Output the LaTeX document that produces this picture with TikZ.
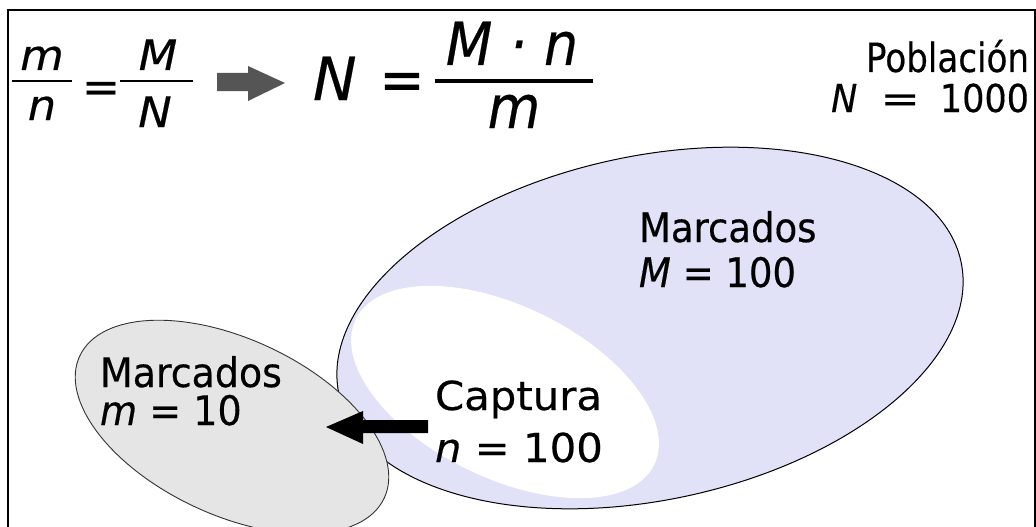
\documentclass[tikz,border=0pt]{standalone}
\usepackage{fontspec}
\setmainfont{DejaVu Sans}[FakeBold=0.4]
\definecolor{lav}{HTML}{E1E1F8}
\definecolor{lgray}{HTML}{E5E5E5}
\definecolor{agray}{HTML}{555555}
\definecolor{egray}{HTML}{333333}
\newcommand{\tallt}[1]{\scalebox{1}[1.1]{#1}}
\tikzset{
  lbl/.style={inner sep=0pt, outer sep=0pt, font=\fontsize{37}{44}\selectfont, anchor=base west},
  lblr/.style={inner sep=0pt, outer sep=0pt, font=\fontsize{35}{42}\selectfont, anchor=base east},
  bigm/.style={inner sep=0pt, outer sep=0pt, font=\fontsize{54}{60}\selectfont, anchor=base},
  smallm/.style={inner sep=0pt, outer sep=0pt, font=\fontsize{40}{46}\selectfont, anchor=base},
  fracbar/.style={line width=2.5pt},
  bigbar/.style={line width=3.5pt},
}
\begin{document}
\begin{tikzpicture}[x=1pt,y=-1pt]
\useasboundingbox (0,0) rectangle (1036,527);
\clip (0,0) rectangle (1036,527);
\fill[white] (0,0) rectangle (1036,527);
% frame
\draw[line width=2pt] (8,560) -- (8,10) -- (1034.5,10) -- (1034.5,560);

% big ellipse (population marked)
\path[fill=lav, rotate around={12:(650,328)}] (650,328) ellipse [x radius=318, y radius=172];
\begin{scope}
  \clip[rotate around={12:(650,328)}] (650,328) ellipse [x radius=315, y radius=169];
  \fill[white, rotate around={-26:(505,392)}] (505,392) ellipse [x radius=166, y radius=86];
\end{scope}
\draw[black, line width=1pt, rotate around={12:(650,328)}] (650,328) ellipse [x radius=318, y radius=172];

% small gray ellipse
\draw[fill=lgray, draw=egray, line width=0.9pt, rotate around={-25:(232,427)}] (232,427) ellipse [x radius=168, y radius=88];

% black arrow
\fill[black] (428,420) -- (363,420) -- (363,411) -- (326,427) -- (363,444) -- (363,433) -- (428,433) -- cycle;

% gray arrow
\fill[agray] (217,73) -- (248,73) -- (248,66) -- (285,83) -- (248,101) -- (248,91) -- (217,91) -- cycle;

% small formula
\node[smallm] (sm) at (42,70) {\scalebox{1.12}[1.05]{\itshape m}};
\node[smallm] (sn) at (42,120) {\scalebox{1.12}[1.05]{\itshape n}};
\draw[fracbar] (12,81) -- (72,81);
\node[smallm] (seq) at (101,102) {\scalebox{1.15}[1.1]{=}};
\node[smallm] (sM) at (158,70) {\scalebox{1.12}[1.05]{\itshape M}};
\node[smallm] (sN) at (155,127) {\scalebox{1.12}[1.05]{\itshape N}};
\draw[fracbar] (120,81) -- (193,81);

% big formula
\node[bigm, anchor=base west] (bN) at (313,100) {\scalebox{1.08}[1.1]{\itshape N}};
\node[bigm] (beq) at (402,100) {\tallt{=}};
\node[bigm] (bMn) at (512,65) {\tallt{\itshape M · n}};
\node[bigm] (bm) at (514,128) {\tallt{\itshape m}};
\draw[bigbar] (435,81) -- (593,81);

% labels
\node[lblr] (pob) at (1029,72) {\scalebox{0.975}[1.15]{Población}};
\node[lblr] (pobN) at (1029,112) {\scalebox{1}[1.1]{{\itshape N}\hspace{23pt}\scalebox{1.35}[1]{=}\hspace{20pt}1000}};

\node[lbl] (marcM) at (639,242) {\tallt{Marcados}};
\node[lbl] (marcMv) at (639,287) {\tallt{{\itshape M} = 100}};

\node[lbl] (capt) at (435,410) {\scalebox{1.13}[1.08]{Captura}};
\node[lbl] (captv) at (435,462) {\scalebox{1.13}[1.08]{{\itshape n} = 100}};

\node[lbl] (marcm) at (100,387) {\scalebox{1.025}[1.1]{Marcados}};
\node[lbl] (marcmv) at (100,425) {\scalebox{1.03}[1.1]{{\itshape m} = 10}};
\end{tikzpicture}
\end{document}
